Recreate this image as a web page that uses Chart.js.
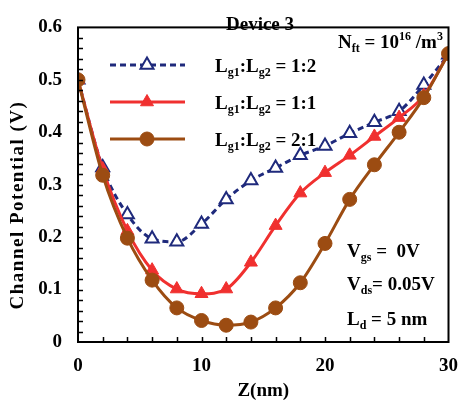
<!DOCTYPE html>
<html>
<head>
<meta charset="utf-8">
<script src="https://cdn.jsdelivr.net/npm/chart.js@4"></script>
<style>
  html, body { margin: 0; padding: 0; background: #fff; }
  #wrap { width: 471px; height: 402px; }
</style>
</head>
<body>
<div id="wrap"><canvas id="potential_chart" width="471" height="402"></canvas></div>
<script>
"use strict"

// values
var zPos = [0, 2, 4, 6, 8, 10, 12, 14, 16, 18, 20, 22, 24, 26, 28, 30];
var ratio12 = [0.5, 0.333, 0.243, 0.197, 0.191, 0.225, 0.272, 0.308, 0.332, 0.356, 0.374, 0.398, 0.419, 0.44, 0.49, 0.548];
var ratio11 = [0.5, 0.33, 0.212, 0.137, 0.101, 0.092, 0.101, 0.152, 0.222, 0.284, 0.323, 0.356, 0.392, 0.428, 0.47, 0.55];
var ratio21 = [0.5, 0.318, 0.198, 0.118, 0.065, 0.041, 0.032, 0.038, 0.065, 0.113, 0.188, 0.272, 0.338, 0.4, 0.466, 0.55];
var xTicks = [0, 10, 20, 30];
var yTicks = [0, 0.1, 0.2, 0.3, 0.4, 0.5, 0.6];

var BLUE = "#1f2a7c";
var RED = "#f0302f";
var BROWN = "#9c4c12";
var SERIF = "'Liberation Serif', 'Times New Roman', serif";

function pts(ys) {
    return zPos.map(function(z, i){ return {x: z, y: ys[i]}; });
}

// text with sub / superscripts: parts = [[text, kind]]
function richText(ctx, x, y, parts, size, align) {
    var small = Math.round(size * 0.62);
    var w = 0;
    parts.forEach(function(p){
        ctx.font = "bold " + (p[1] === 'n' ? size : small) + "px " + SERIF;
        w += ctx.measureText(p[0]).width;
    });
    if (align === 'center') x -= w / 2;
    ctx.textAlign = 'left';
    ctx.textBaseline = 'alphabetic';
    parts.forEach(function(p){
        var dy = 0;
        if (p[1] === 'sub') dy = size * 0.22;
        if (p[1] === 'sup') dy = -size * 0.4;
        ctx.font = "bold " + (p[1] === 'n' ? size : small) + "px " + SERIF;
        ctx.fillText(p[0], x, y + dy);
        x += ctx.measureText(p[0]).width;
    });
}

var frame = {
    id: 'frame',
    afterDraw: function(chart) {
        var ctx = chart.ctx, a = chart.chartArea;
        var xs = chart.scales.x, ys = chart.scales.y;
        ctx.save();
        ctx.strokeStyle = "#000";
        ctx.lineWidth = 2;
        ctx.strokeRect(a.left, a.top, a.right - a.left, a.bottom - a.top);
        ctx.lineWidth = 1.5;
        ctx.beginPath();
        for (var v = 0.02; v < 0.6; v += 0.02) {
            var py = Math.round(ys.getPixelForValue(v)) + 0.5;
            ctx.moveTo(a.left, py);
            ctx.lineTo(a.left + 5, py);
        }
        for (var z = 2; z < 30; z += 2) {
            var px = Math.round(xs.getPixelForValue(z)) + 0.5;
            ctx.moveTo(px, a.bottom);
            ctx.lineTo(px, a.bottom - 5);
        }
        ctx.stroke();

        // y title, letter spaced like the original
        ctx.fillStyle = "#000";
        ctx.translate(18, 205);
        ctx.rotate(-Math.PI / 2);
        ctx.font = "bold 19px " + SERIF;
        ctx.letterSpacing = "1.5px";
        ctx.textAlign = 'center';
        ctx.textBaseline = 'middle';
        ctx.fillText("Channel Potential (V)", 0, 0);
        ctx.restore();

        // legend
        ctx.save();
        var rows = [[ratio12Set, 65, "1:2"], [ratio11Set, 102, "1:1"], [ratio21Set, 139, "2:1"]];
        rows.forEach(function(r){
            var ds = r[0];
            ctx.strokeStyle = ds.borderColor;
            ctx.lineWidth = ds.borderWidth;
            ctx.setLineDash(ds.borderDash || []);
            ctx.beginPath();
            ctx.moveTo(110, r[1]);
            ctx.lineTo(185, r[1]);
            ctx.stroke();
            ctx.setLineDash([]);
            ctx.fillStyle = ds.pointBackgroundColor;
            ctx.strokeStyle = ds.pointBorderColor;
            ctx.lineWidth = ds.pointBorderWidth;
            Chart.helpers.drawPoint(ctx, {pointStyle: ds.pointStyle, radius: ds.pointRadius, rotation: 0, borderWidth: ds.pointBorderWidth}, 147, r[1]);
            ctx.fillStyle = "#000";
            richText(ctx, 215, r[1] + 7, [["L", 'n'], ["g1", 'sub'], [":L", 'n'], ["g2", 'sub'], [" = " + r[2], 'n']], 19);
        });

        ctx.fillStyle = "#000";
        richText(ctx, 260, 30, [["Device 3", 'n']], 19, 'center');
        richText(ctx, 338, 48, [["N", 'n'], ["ft", 'sub'], [" = 10", 'n'], ["16", 'sup'], [" /m", 'n'], ["3", 'sup']], 19);
        richText(ctx, 347, 257, [["V", 'n'], ["gs", 'sub'], [" =  0V", 'n']], 19);
        richText(ctx, 347, 290, [["V", 'n'], ["ds", 'sub'], ["= 0.05V", 'n']], 19);
        richText(ctx, 347, 325, [["L", 'n'], ["d", 'sub'], [" = 5 nm", 'n']], 19);
        ctx.restore();
    }
};

var ratio12Set = {
    label: "Lg1:Lg2 = 1:2",
    data: pts(ratio12),
    borderColor: BLUE,
    borderWidth: 3,
    borderDash: [6, 4],
    pointStyle: 'triangle',
    pointRadius: 7.5,
    pointBorderWidth: 2,
    pointBorderColor: BLUE,
    pointBackgroundColor: "#fff",
    cubicInterpolationMode: 'monotone',
    order: 2
};
var ratio11Set = {
    label: "Lg1:Lg2 = 1:1",
    data: pts(ratio11),
    borderColor: RED,
    borderWidth: 3,
    pointStyle: 'triangle',
    pointRadius: 7.5,
    pointBorderWidth: 1,
    pointBorderColor: RED,
    pointBackgroundColor: RED,
    cubicInterpolationMode: 'monotone',
    order: 1
};
var ratio21Set = {
    label: "Lg1:Lg2 = 2:1",
    data: pts(ratio21),
    borderColor: BROWN,
    borderWidth: 3,
    pointStyle: 'circle',
    pointRadius: 7,
    pointBorderWidth: 1,
    pointBorderColor: BROWN,
    pointBackgroundColor: BROWN,
    cubicInterpolationMode: 'monotone',
    order: 0
};

var potentialChart = new Chart(document.getElementById("potential_chart"), {
    type: 'line',
    data: { datasets: [ratio12Set, ratio11Set, ratio21Set] },
    plugins: [frame],
    options: {
        responsive: false,
        animation: false,
        layout: { padding: { top: 11, right: 14, left: 0, bottom: 0 } },
        plugins: { legend: { display: false }, tooltip: { enabled: false } },
        scales: {
            x: {
                type: 'linear',
                min: 0, max: 30,
                afterBuildTicks: function(s){ s.ticks = xTicks.map(function(v){ return {value: v}; }); },
                afterFit: function(s){ s.height = 60; },
                grid: { display: false, drawTicks: false },
                border: { display: false },
                ticks: { color: "#000", padding: 13, font: { family: SERIF, size: 19, weight: 'bold' } },
                title: { display: true, text: "Z(nm)", color: "#000", padding: { top: 0, bottom: 0 },
                         font: { family: SERIF, size: 19, weight: 'bold' } }
            },
            y: {
                min: 0, max: 0.6,
                afterBuildTicks: function(s){ s.ticks = yTicks.map(function(v){ return {value: v}; }); },
                afterFit: function(s){ s.width = 78; },
                grid: { display: false, drawTicks: false },
                border: { display: false },
                ticks: { color: "#000", padding: 16, font: { family: SERIF, size: 19, weight: 'bold' } }
            }
        }
    }
});
</script>
</body>
</html>
